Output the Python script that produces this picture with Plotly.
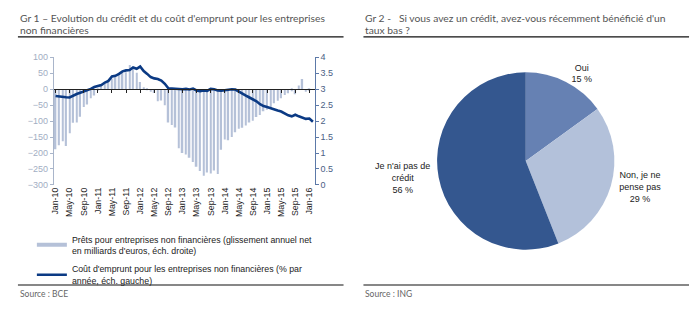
import plotly.graph_objects as go
import pandas as pd

# ---------------- data ----------------
months = [d.strftime("%b-%y") for d in pd.date_range("2010-01-01", "2016-02-01", freq="MS")]

loans_bn = [-188, -176, -163, -178, -138, -105, -104, -86, -56, -48, -28, -20,
            -5, 12, 18, 25, 33, 41, 48, 51, 53, 76, 69, 52,
            23, 6, -3, -8, -12, -38, -35, -50, -104, -112, -120, -185,
            -200, -205, -215, -228, -243, -256, -271, -261, -264, -255, -266, -190,
            -158, -160, -150, -135, -124, -121, -114, -104, -99, -87, -81, -69,
            -64, -59, -44, -36, -28, -18, -13, -6, -16, 12, 32, -8,
            -5, None]

cost_pct = [2.79, 2.77, 2.75, 2.75, 2.74, 2.80, 2.85, 2.89, 2.93, 2.95, 3.01, 3.07,
            3.11, 3.13, 3.21, 3.26, 3.40, 3.42, 3.48, 3.56, 3.59, 3.60, 3.68, 3.64,
            3.71, 3.57, 3.48, 3.38, 3.34, 3.32, 3.27, 3.17, 3.03, 3.02, 3.03, 3.01,
            3.00, 3.01, 2.99, 3.02, 2.96, 2.94, 2.96, 2.95, 3.01, 3.00, 2.96, 2.95,
            2.97, 2.99, 3.00, 2.99, 2.92, 2.86, 2.80, 2.74, 2.69, 2.62, 2.53, 2.47,
            2.44, 2.40, 2.35, 2.33, 2.30, 2.24, 2.18, 2.15, 2.20, 2.15, 2.10, 2.07,
            2.08, 1.98]

tick_labels = ["Jan-10", "May-10", "Sep-10", "Jan-11", "May-11", "Sep-11",
               "Jan-12", "May-12", "Sep-12", "Jan-13", "May-13", "Sep-13",
               "Jan-14", "May-14", "Sep-14", "Jan-15", "May-15", "Sep-15", "Jan-16"]
tick_vals = [months[i * 4] for i in range(len(tick_labels))]

legend_names = ["Prêts pour entreprises non financières (glissement annuel net<br>en milliards d'euros, éch. droite)",
                "Coût d'emprunt pour les entreprises non financières (% par<br>année, éch. gauche)"]

pie_labels = ["Oui", "Non, je ne<br>pense pas", "Je n'ai pas de<br>crédit"]
pie_values = [15, 29, 56]

title_left = ["Gr 1 – Evolution du crédit et du coût d'emprunt pour les entreprises",
              "non financières"]
title_right = ["Gr 2 -\u00a0\u00a0\u00a0Si vous avez un crédit, avez-vous récemment bénéficié d'un",
               "taux bas ?"]

# ---------------- styles ----------------
W, H = 700, 321
BAR_C = "#B5C1D8"
LINE_C = "#0B3A84"
PIE_C = ["#6681B3", "#B3C1DA", "#34578F"]
FONT = "Liberation Sans"
TFONT = "Lato"

def py(p):  # pixel y -> paper
    return 1 - p / H

def px(p):
    return p / W

ydom = [py(185.7), py(54)]
zero_pos = ydom[0] + 0.75 * (ydom[1] - ydom[0])

fig = go.Figure()

fig.add_trace(go.Bar(x=months, y=loans_bn, marker_color=BAR_C, marker_line_width=0,
                     xaxis="x", yaxis="y", showlegend=False, hoverinfo="skip"))
# legend swatch for the bar series
fig.add_trace(go.Scatter(x=[None], y=[None], mode="lines", line=dict(color=BAR_C, width=4),
                         name=legend_names[0], legendgroup="a", xaxis="x", yaxis="y"))
fig.add_trace(go.Scatter(x=months, y=cost_pct, mode="lines", line=dict(color=LINE_C, width=2.6),
                         name=legend_names[1], legendgroup="b", xaxis="x", yaxis="y2"))
# invisible trace carrying the zero-crossing category axis
fig.add_trace(go.Scatter(x=months, y=[None] * len(months), mode="lines", xaxis="x2", yaxis="y",
                         showlegend=False, hoverinfo="skip"))

fig.add_trace(go.Pie(labels=pie_labels, values=pie_values, sort=False, direction="clockwise",
                     rotation=0, marker=dict(colors=PIE_C, line=dict(width=0)),
                     text=[f"{l}<br>{v} %" for l, v in zip(pie_labels, pie_values)],
                     textinfo="text", textposition="outside",
                     textfont=dict(family=FONT, size=9, color="#222222"),
                     domain=dict(x=[px(433), px(617)], y=[py(252.5), py(69.5)]),
                     showlegend=False, hoverinfo="skip"))

fig.update_layout(
    width=W, height=H, margin=dict(l=0, r=0, t=0, b=0),
    paper_bgcolor="white", plot_bgcolor="white",
    bargap=0.55,
    xaxis=dict(domain=[px(51), px(313)], type="category", categoryorder="array",
               categoryarray=months, range=[-0.5, len(months) - 0.5],
               tickmode="array", tickvals=tick_vals, ticktext=tick_labels,
               tickangle=-90, tickfont=dict(family=FONT, size=8.8, color="#222222"),
               showline=False, ticks="", showgrid=False, zeroline=False, anchor="y"),
    xaxis2=dict(domain=[px(51), px(313)], type="category", categoryorder="array",
                categoryarray=months, range=[-0.5, len(months) - 0.5], overlaying="x",
                anchor="free", position=zero_pos, showline=True, linecolor="#222222",
                linewidth=1, ticks="outside", ticklen=3, tickcolor="#222222",
                tickmode="array", tickvals=tick_vals, showticklabels=False, showgrid=False),
    yaxis=dict(domain=ydom, range=[-300, 100], dtick=50, showgrid=False, zeroline=False,
               showline=True, linecolor="#A9B5CA", ticks="outside", ticklen=3,
               tickcolor="#A9B5CA", tickfont=dict(family=FONT, size=9, color="#A2AEC3"),
               anchor="x"),
    yaxis2=dict(range=[0, 4], dtick=0.5, overlaying="y", side="right", anchor="x",
                showgrid=False, zeroline=False, showline=True, linecolor="#5C79A8",
                ticks="outside", ticklen=3, tickcolor="#5C79A8",
                tickfont=dict(family=FONT, size=9, color="#4A6085")),
    legend=dict(x=px(29), y=py(229), xanchor="left", yanchor="top",
                font=dict(family=FONT, size=8.8, color="#222222"),
                tracegroupgap=4, itemwidth=30, bgcolor="rgba(0,0,0,0)"),
)

# titles, rules, sources
for xs, title, src in [(15, title_left, "Source : BCE"), (362, title_right, "Source : ING")]:
    for line, yy in zip(title, (13, 25.5)):
        fig.add_annotation(x=px(xs), y=py(yy), xref="paper", yref="paper", xanchor="left",
                           yanchor="middle", align="left", showarrow=False, text=line,
                           font=dict(family=TFONT, size=10.3, color="#555555"))
    fig.add_annotation(x=px(xs), y=py(298), xref="paper", yref="paper", xanchor="left",
                       yanchor="middle", showarrow=False, text=src,
                       font=dict(family=TFONT, size=8.5, color="#666666"))

for x0, x1 in [(15, 342), (362, 689)]:
    for yy in (33, 289):
        fig.add_shape(type="line", xref="paper", yref="paper", x0=px(x0), x1=px(x1),
                      y0=py(yy), y1=py(yy), line=dict(color="#111111", width=1.2))

fig.write_html("out.html")
